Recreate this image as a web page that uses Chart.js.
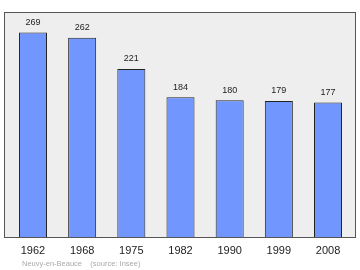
<!DOCTYPE html>
<html>
<head>
<meta charset="utf-8">
<script src="https://cdn.jsdelivr.net/npm/chart.js@4/dist/chart.umd.min.js"></script>
<style>
  html, body { margin: 0; padding: 0; background: #fff; }
  #wrap { width: 360px; height: 270px; }
</style>
</head>
<body>
<div id="wrap"><canvas id="chart"></canvas></div>
<script>
const years = ["1962", "1968", "1975", "1982", "1990", "1999", "2008"];
const population = [269, 262, 221, 184, 180, 179, 177];
const yMax = 296;
const footer = "Neuvy-en-Beauce    (source: Insee)";

// grey plot box behind the bars
const plotBox = {
  id: "plotBox",
  beforeDraw(chart) {
    const { ctx, chartArea: a } = chart;
    ctx.save();
    ctx.fillStyle = "#eeeeee";
    ctx.fillRect(4, a.top, 352, a.bottom - a.top);
    ctx.strokeStyle = "#555555";
    ctx.lineWidth = 1;
    ctx.strokeRect(4.5, a.top + 0.5, 351, a.bottom - a.top);
    ctx.restore();
  },
};

// value above each bar + source line
const valueLabels = {
  id: "valueLabels",
  afterDatasetsDraw(chart) {
    const { ctx } = chart;
    const meta = chart.getDatasetMeta(0);
    ctx.save();
    ctx.font = "9px 'Liberation Sans', Arial, sans-serif";
    ctx.fillStyle = "#222222";
    ctx.textAlign = "center";
    ctx.textBaseline = "middle";
    meta.data.forEach((bar, i) => {
      ctx.fillText(String(population[i]), bar.x, bar.y - 10);
    });
    ctx.font = "7.5px 'Liberation Sans', Arial, sans-serif";
    ctx.fillStyle = "#aaaaaa";
    ctx.textAlign = "left";
    ctx.fillText(footer, 22, 264);
    ctx.restore();
  },
};

new Chart(document.getElementById("chart"), {
  type: "bar",
  data: {
    labels: years,
    datasets: [
      {
        data: population,
        backgroundColor: "#7197ff",
        borderColor: "#222222",
        borderWidth: 1,
        barPercentage: 0.57,
        categoryPercentage: 1,
      },
    ],
  },
  options: {
    responsive: true,
    maintainAspectRatio: false,
    animation: false,
    layout: { padding: { left: 8.4, right: 7.4, top: 12, bottom: 0 } },
    scales: {
      x: {
        grid: { display: false, drawTicks: false },
        border: { display: false },
        ticks: {
          color: "#222222",
          font: { family: "'Liberation Sans', Arial, sans-serif", size: 11 },
          padding: 7,
          maxRotation: 0,
        },
        afterFit(scale) {
          scale.height = 33;
        },
      },
      y: {
        display: false,
        min: 0,
        max: yMax,
      },
    },
    plugins: {
      legend: { display: false },
      tooltip: { enabled: false },
    },
  },
  plugins: [plotBox, valueLabels],
});
</script>
</body>
</html>
